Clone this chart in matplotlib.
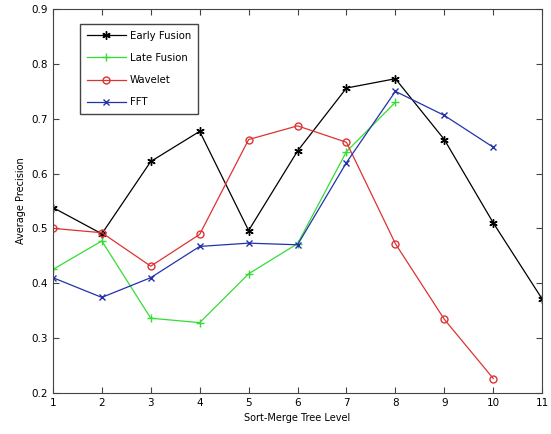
import matplotlib
matplotlib.use('Agg')
from matplotlib import pyplot as plt

levels = list(range(1, 12))
early_fusion = [0.538, 0.490, 0.622, 0.677, 0.496, 0.641, 0.756, 0.773, 0.662, 0.510, 0.371]
late_fusion = [0.425, 0.477, 0.336, 0.328, 0.417, 0.472, 0.640, 0.730]
wavelet = [0.500, 0.492, 0.431, 0.489, 0.662, 0.687, 0.657, 0.472, 0.334, 0.226]
fft = [0.410, 0.374, 0.410, 0.467, 0.473, 0.470, 0.620, 0.750, 0.706, 0.648]

plt.rcParams['font.family'] = 'DejaVu Sans'
fig = plt.figure(figsize=(5.51, 4.34), dpi=100)
ax = fig.add_axes([0.096, 0.095, 0.888, 0.884])

ax.plot(levels, early_fusion, color='black', marker=(6, 2, 0), markersize=6, mew=1.0, lw=0.9, label='Early Fusion')
ax.plot(levels[:len(late_fusion)], late_fusion, color='#33dd33', marker='+', markersize=6, lw=0.9, label='Late Fusion')
ax.plot(levels[:len(wavelet)], wavelet, color='#dd3333', marker='o', mfc='none', markersize=5, lw=0.9, label='Wavelet')
ax.plot(levels[:len(fft)], fft, color='#2233aa', marker='x', markersize=4.5, lw=0.9, label='FFT')

ax.set_xlim(1, 11)
ax.set_ylim(0.2, 0.9)
ax.set_xticks(levels)
ax.set_yticks([0.2, 0.3, 0.4, 0.5, 0.6, 0.7, 0.8, 0.9])
ax.set_yticklabels(['0.2', '0.3', '0.4', '0.5', '0.6', '0.7', '0.8', '0.9'])
ax.tick_params(direction='in', top=True, right=True, labelsize=7.5, length=4, color='#444444')
for s in ax.spines.values():
    s.set_color('#444444')
ax.set_xlabel('Sort-Merge Tree Level', fontsize=7)
ax.set_ylabel('Average Precision', fontsize=7)

ax.legend(loc='upper left', bbox_to_anchor=(0.045, 0.975), fontsize=7.3, fancybox=False,
          edgecolor='#444444', framealpha=1, handlelength=3.8, numpoints=1, borderpad=0.7,
          labelspacing=1.2, handletextpad=0.4)

plt.savefig('out.png', dpi=100)
